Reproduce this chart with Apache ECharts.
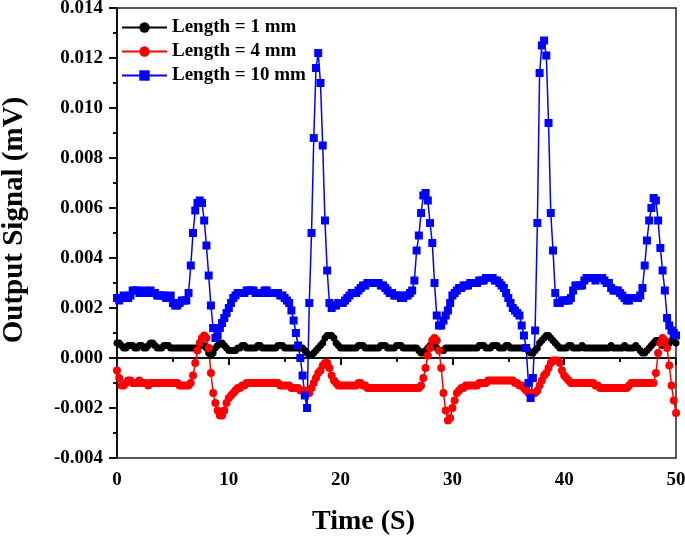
<!DOCTYPE html>
<html>
<head>
<meta charset="utf-8">
<script src="https://cdn.jsdelivr.net/npm/echarts@6/dist/echarts.min.js"></script>
<style>
    html, body {margin: 0; padding: 0; background: #fff;}
    #signal {width: 685px; height: 537px;}
</style>
</head>
<body>
<div id="signal"></div>
<script>
// 采样间隔 (s)，每行 10 个点 = 2 s
var step = 0.2;

// Length = 1 mm
var len1 = [
    0.0006, 0.0006, 0.0005, 0.0004, 0.0004, 0.0005, 0.0005, 0.0005, 0.0004, 0.0004,
    0.0005, 0.0005, 0.0004, 0.0004, 0.0005, 0.0006, 0.0006, 0.0005, 0.0004, 0.0004,
    0.0004, 0.0005, 0.0005, 0.0005, 0.0004, 0.0004, 0.0004, 0.0004, 0.0004, 0.0004,
    0.0004, 0.0004, 0.0004, 0.0004, 0.0004, 0.0004, 0.0004, 0.0005, 0.0005, 0.0005,
    0.0004, 0.0002, 0.0001, 0.0002, 0.0004, 0.0005, 0.0006, 0.0006, 0.0005, 0.0004,
    0.0003, 0.0003, 0.0003, 0.0003, 0.0004, 0.0004, 0.0005, 0.0005, 0.0004, 0.0004,
    0.0004, 0.0004, 0.0004, 0.0005, 0.0005, 0.0004, 0.0004, 0.0004, 0.0004, 0.0004,
    0.0004, 0.0004, 0.0005, 0.0005, 0.0005, 0.0004, 0.0004, 0.0004, 0.0004, 0.0004,
    0.0004, 0.0004, 0.0004, 0.0004, 0.0003, 0.0002, 0.0001, 0.0001, 0.0002, 0.0003,
    0.0004, 0.0005, 0.0006, 0.0008, 0.0009, 0.0009, 0.0009, 0.0008, 0.0006, 0.0005,
    0.0004, 0.0004, 0.0004, 0.0004, 0.0004, 0.0004, 0.0004, 0.0004, 0.0005, 0.0005,
    0.0005, 0.0004, 0.0004, 0.0004, 0.0004, 0.0004, 0.0004, 0.0004, 0.0005, 0.0005,
    0.0005, 0.0004, 0.0004, 0.0004, 0.0004, 0.0005, 0.0005, 0.0005, 0.0004, 0.0004,
    0.0004, 0.0004, 0.0004, 0.0004, 0.0004, 0.0003, 0.0002, 0.0002, 0.0003, 0.0004,
    0.0005, 0.0005, 0.0005, 0.0004, 0.0003, 0.0003, 0.0003, 0.0004, 0.0004, 0.0004,
    0.0004, 0.0004, 0.0004, 0.0004, 0.0004, 0.0004, 0.0004, 0.0004, 0.0004, 0.0004,
    0.0004, 0.0004, 0.0005, 0.0005, 0.0005, 0.0004, 0.0004, 0.0004, 0.0005, 0.0005,
    0.0005, 0.0004, 0.0004, 0.0004, 0.0005, 0.0005, 0.0004, 0.0004, 0.0004, 0.0004,
    0.0004, 0.0004, 0.0004, 0.0004, 0.0003, 0.0002, 0.0002, 0.0003, 0.0004, 0.0006,
    0.0007, 0.0008, 0.0009, 0.0009, 0.0008, 0.0007, 0.0006, 0.0005, 0.0004, 0.0004,
    0.0004, 0.0004, 0.0005, 0.0005, 0.0004, 0.0004, 0.0004, 0.0004, 0.0005, 0.0004,
    0.0004, 0.0004, 0.0004, 0.0004, 0.0004, 0.0004, 0.0004, 0.0004, 0.0004, 0.0004,
    0.0004, 0.0005, 0.0004, 0.0004, 0.0004, 0.0004, 0.0004, 0.0005, 0.0004, 0.0004,
    0.0004, 0.0004, 0.0005, 0.0004, 0.0003, 0.0002, 0.0002, 0.0003, 0.0004, 0.0005,
    0.0006, 0.0007, 0.0007, 0.0006, 0.0005, 0.0005, 0.0005, 0.0006, 0.0007, 0.0007,
    0.0006
];

// Length = 4 mm
var len4 = [
    -0.0005, -0.0008, -0.0011, -0.0011, -0.0010, -0.0009, -0.0009, -0.0010, -0.0010, -0.0010,
    -0.0009, -0.0010, -0.0010, -0.0010, -0.0011, -0.0010, -0.0010, -0.0010, -0.0010, -0.0010,
    -0.0010, -0.0010, -0.0010, -0.0010, -0.0010, -0.0010, -0.0010, -0.0010, -0.0011, -0.0011,
    -0.0011, -0.0011, -0.0011, -0.0010, -0.0007, -0.0002, 0.0003, 0.0006, 0.0008, 0.0009,
    0.0008, 0.0004, -0.0006, -0.0014, -0.0018, -0.0021, -0.0023, -0.0023, -0.0021, -0.0018,
    -0.0016, -0.0015, -0.0014, -0.0013, -0.0012, -0.0012, -0.0011, -0.0011, -0.0010, -0.0010,
    -0.0010, -0.0010, -0.0010, -0.0010, -0.0010, -0.0010, -0.0010, -0.0010, -0.0010, -0.0010,
    -0.0010, -0.0010, -0.0010, -0.0011, -0.0011, -0.0011, -0.0011, -0.0011, -0.0012, -0.0012,
    -0.0012, -0.0012, -0.0013, -0.0013, -0.0013, -0.0014, -0.0014, -0.0012, -0.0010, -0.0008,
    -0.0006, -0.0005, -0.0003, -0.0002, -0.0002, -0.0004, -0.0007, -0.0009, -0.0010, -0.0011,
    -0.0011, -0.0011, -0.0011, -0.0011, -0.0011, -0.0011, -0.0011, -0.0011, -0.0010, -0.0010,
    -0.0011, -0.0011, -0.0012, -0.0012, -0.0012, -0.0012, -0.0012, -0.0012, -0.0012, -0.0012,
    -0.0012, -0.0012, -0.0012, -0.0012, -0.0012, -0.0012, -0.0012, -0.0012, -0.0012, -0.0012,
    -0.0012, -0.0012, -0.0012, -0.0012, -0.0012, -0.0012, -0.0011, -0.0008, -0.0004, 0.0001,
    0.0004, 0.0007, 0.0008, 0.0007, 0.0003, -0.0004, -0.0014, -0.0021, -0.0025, -0.0024,
    -0.0020, -0.0017, -0.0014, -0.0013, -0.0012, -0.0012, -0.0011, -0.0011, -0.0011, -0.0011,
    -0.0011, -0.0011, -0.0010, -0.0010, -0.0010, -0.0010, -0.0009, -0.0009, -0.0009, -0.0009,
    -0.0009, -0.0009, -0.0009, -0.0009, -0.0009, -0.0009, -0.0009, -0.0009, -0.0010, -0.0010,
    -0.0011, -0.0011, -0.0012, -0.0013, -0.0014, -0.0014, -0.0014, -0.0014, -0.0013, -0.0011,
    -0.0009, -0.0007, -0.0006, -0.0004, -0.0002, -0.0001, -0.0001, -0.0001, -0.0002, -0.0005,
    -0.0007, -0.0008, -0.0009, -0.0010, -0.0010, -0.0010, -0.0010, -0.0010, -0.0010, -0.0010,
    -0.0010, -0.0010, -0.0010, -0.0010, -0.0011, -0.0011, -0.0012, -0.0012, -0.0012, -0.0012,
    -0.0012, -0.0012, -0.0012, -0.0012, -0.0012, -0.0012, -0.0012, -0.0012, -0.0012, -0.0011,
    -0.0010, -0.0010, -0.0010, -0.0010, -0.0010, -0.0010, -0.0010, -0.0010, -0.0010, -0.0010,
    -0.0010, -0.0006, 0.0002, 0.0006, 0.0008, 0.0007, 0.0004, -0.0003, -0.0011, -0.0017,
    -0.0022
];

// Length = 10 mm
var len10 = [
    0.0024, 0.0023, 0.0024, 0.0025, 0.0024, 0.0024, 0.0025, 0.0027, 0.0027, 0.0027,
    0.0026, 0.0026, 0.0027, 0.0026, 0.0026, 0.0027, 0.0026, 0.0026, 0.0025, 0.0025,
    0.0025, 0.0025, 0.0024, 0.0024, 0.0025, 0.0022, 0.0021, 0.0021, 0.0022, 0.0023,
    0.0023, 0.0023, 0.0026, 0.0037, 0.0050, 0.0059, 0.0062, 0.0063, 0.0062, 0.0055,
    0.0045, 0.0033, 0.0021, 0.0012, 0.0008, 0.0009, 0.0012, 0.0014, 0.0016, 0.0018,
    0.0020, 0.0022, 0.0024, 0.0025, 0.0026, 0.0026, 0.0026, 0.0026, 0.0027, 0.0027,
    0.0027, 0.0027, 0.0026, 0.0026, 0.0026, 0.0026, 0.0027, 0.0027, 0.0026, 0.0026,
    0.0026, 0.0026, 0.0026, 0.0025, 0.0025, 0.0024, 0.0023, 0.0022, 0.0019, 0.0015,
    0.0010, 0.0005, 0.0000, -0.0007, -0.0015, -0.0020, 0.0022, 0.0050, 0.0088, 0.0116,
    0.0122, 0.0110, 0.0085, 0.0055, 0.0035, 0.0022, 0.0020, 0.0021, 0.0021, 0.0022,
    0.0022, 0.0022, 0.0023, 0.0024, 0.0025, 0.0026, 0.0026, 0.0026, 0.0027, 0.0028,
    0.0029, 0.0029, 0.0030, 0.0030, 0.0030, 0.0030, 0.0030, 0.0030, 0.0029, 0.0029,
    0.0028, 0.0027, 0.0026, 0.0026, 0.0025, 0.0025, 0.0025, 0.0024, 0.0024, 0.0025,
    0.0025, 0.0026, 0.0027, 0.0031, 0.0043, 0.0049, 0.0058, 0.0065, 0.0066, 0.0063,
    0.0054, 0.0046, 0.0030, 0.0017, 0.0013, 0.0013, 0.0015, 0.0017, 0.0019, 0.0022,
    0.0025, 0.0026, 0.0027, 0.0028, 0.0028, 0.0029, 0.0029, 0.0029, 0.0030, 0.0030,
    0.0030, 0.0030, 0.0031, 0.0031, 0.0031, 0.0032, 0.0032, 0.0032, 0.0032, 0.0031,
    0.0031, 0.0030, 0.0029, 0.0028, 0.0026, 0.0024, 0.0022, 0.0020, 0.0019, 0.0018,
    0.0017, 0.0013, 0.0009, 0.0004, -0.0010, -0.0016, -0.0008, 0.0011, 0.0054, 0.0114,
    0.0125, 0.0127, 0.0121, 0.0094, 0.0058, 0.0043, 0.0026, 0.0022, 0.0022, 0.0023,
    0.0023, 0.0023, 0.0023, 0.0024, 0.0027, 0.0029, 0.0029, 0.0029, 0.0029, 0.0031,
    0.0032, 0.0032, 0.0032, 0.0032, 0.0031, 0.0032, 0.0032, 0.0032, 0.0031, 0.0030,
    0.0030, 0.0028, 0.0027, 0.0027, 0.0027, 0.0026, 0.0025, 0.0024, 0.0023, 0.0023,
    0.0024, 0.0024, 0.0024, 0.0024, 0.0025, 0.0028, 0.0037, 0.0047, 0.0055, 0.0060,
    0.0064, 0.0063, 0.0055, 0.0044, 0.0035, 0.0027, 0.0016, 0.0013, 0.0011, 0.0010,
    0.0009
];

var seriesNames = ['Length = 1 mm', 'Length = 4 mm', 'Length = 10 mm'];

// 时间轴 0 ~ 50 s
var time = [];
for (var i = 0; i < len10.length; i++) {
    time.push(Math.round(i * step * 10) / 10);
}

function pairs(values) {
    var out = [];
    for (var j = 0; j < values.length; j++) {
        out.push([time[j], values[j]]);
    }
    return out;
}

var font = '"Liberation Serif", "Times New Roman", serif';
var signalChart = echarts.init(document.getElementById('signal'));

function lineSeries(name, values, color, symbol, size) {
    return {
        name: name,
        type: 'line',
        data: pairs(values),
        symbol: symbol,
        symbolSize: size,
        showSymbol: true,
        showAllSymbol: true,
        lineStyle: {color: color, width: 1.5},
        itemStyle: {color: color},
        emphasis: {disabled: true}
    };
}

signalChart.setOption({
    animation: false,
    backgroundColor: '#fff',
    grid: {
        left: 117,
        right: 9,
        top: 8,
        bottom: 79,
        outerBoundsMode: 'none',
        containLabel: false,
        show: true,
        borderColor: '#222',
        borderWidth: 1.5
    },
    legend: {
        data: seriesNames,
        orient: 'vertical',
        left: 116,
        top: 13,
        itemWidth: 45,
        itemHeight: 13,
        itemGap: 5,
        textStyle: {
            fontFamily: font,
            fontWeight: 'bold',
            fontSize: 19,
            color: '#000'
        }
    },
    xAxis: {
        type: 'value',
        min: 0,
        max: 50,
        interval: 10,
        name: 'Time (S)',
        nameLocation: 'middle',
        nameGap: 50,
        nameTextStyle: {
            fontFamily: font,
            fontWeight: 'bold',
            fontSize: 28,
            color: '#000',
            padding: [0, 66, 0, 0]
        },
        axisLine: {lineStyle: {color: '#111', width: 2}},
        axisTick: {inside: false, length: 7, lineStyle: {width: 2, color: '#111'}},
        minorTick: {show: true, splitNumber: 2, length: 4, lineStyle: {width: 2, color: '#111'}},
        splitLine: {show: false},
        axisLabel: {
            margin: 13,
            fontFamily: font,
            fontWeight: 'bold',
            fontSize: 19,
            color: '#000'
        }
    },
    yAxis: {
        type: 'value',
        min: -0.004,
        max: 0.014,
        interval: 0.002,
        name: 'Output Signal (mV)',
        nameLocation: 'middle',
        nameGap: 88,
        nameTextStyle: {
            fontFamily: font,
            fontWeight: 'bold',
            fontSize: 29,
            color: '#000',
            padding: [0, 0, 0, 26]
        },
        axisLine: {lineStyle: {color: '#111', width: 2}},
        axisTick: {inside: false, length: 8, lineStyle: {width: 2, color: '#111'}},
        minorTick: {show: true, splitNumber: 2, length: 4, lineStyle: {width: 2, color: '#111'}},
        splitLine: {show: false},
        axisLabel: {
            margin: 14,
            fontFamily: font,
            fontWeight: 'bold',
            fontSize: 19,
            color: '#000',
            formatter: function (v) {
                return v.toFixed(3);
            }
        }
    },
    series: [
        lineSeries(seriesNames[0], len1, '#000000', 'circle', 7),
        lineSeries(seriesNames[1], len4, '#ff0000', 'circle', 8),
        lineSeries(seriesNames[2], len10, '#0000ff', 'rect', 8)
    ]
});

window.onresize = function () {
    signalChart.resize();
};
</script>
</body>
</html>
